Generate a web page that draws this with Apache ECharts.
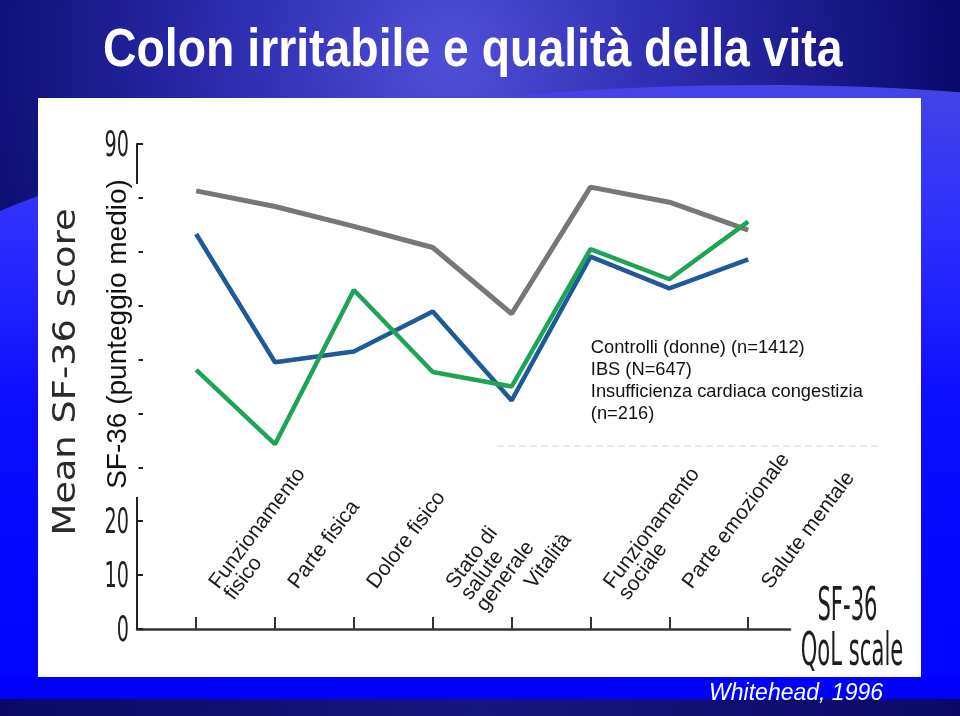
<!DOCTYPE html>
<html>
<head>
<meta charset="utf-8">
<script src="https://cdn.jsdelivr.net/npm/echarts@6/dist/echarts.min.js"></script>
<style>
html,body{margin:0;padding:0;background:#0a0a6e;}
#c{width:960px;height:716px;}
</style>
</head>
<body>
<div id="c"></div>
<script>
// ---- data ----
const categories = ['Funzionamento\nfisico', 'Parte fisica', 'Dolore fisico', 'Stato di\nsalute\ngenerale', 'Vitalità', 'Funzionamento\nsociale', 'Parte emozionale', 'Salute mentale'];
const seriesNames = ['Controlli (donne) (n=1412)', 'IBS (N=647)', 'Insufficienza cardiaca congestizia\n(n=216)'];
const controlli = [81.3, 78.4, 74.7, 70.8, 58.5, 82.0, 79.2, 74.0];
const ibs = [73.3, 49.5, 51.5, 58.9, 42.4, 69.1, 63.2, 68.6];
const insufficienza = [48.1, 34.3, 62.9, 47.7, 45.0, 70.5, 64.9, 75.6];
const yTickLabels = [90, 20, 10, 0];
const seriesColors = ['#777777', '#1d5a97', '#1ea455'];

const chart = echarts.init(document.getElementById('c'), null, {renderer: 'canvas'});
const idx = categories.map((c, i) => i);
const toPairs = arr => arr.map((v, i) => [i, v]);

const option = {
  animation: false,
  grid: {left: 137, right: 170, top: 144, bottom: 87, containLabel: false},
  xAxis: {
    type: 'value', min: -0.75, max: 7.53,
    axisLine: {show: true, onZero: false, lineStyle: {color: '#333', width: 2.5}},
    axisTick: {show: true, inside: true, length: 12, customValues: idx, lineStyle: {color: '#333', width: 2}},
    axisLabel: {
      show: true, customValues: idx, inside: true, rotate: 53, margin: 35,
      align: 'left', verticalAlign: 'top', padding: [0, 0, 0, 17],
      formatter: v => categories[Math.round(v)],
      fontFamily: '"Liberation Sans", Arial, sans-serif', fontSize: 21, lineHeight: 19, color: '#1a1a1a'
    },
    splitLine: {show: false}
  },
  yAxis: {
    type: 'value', min: 0, max: 90, interval: 10,
    axisLine: {show: true, onZero: false, lineStyle: {color: '#222', width: 2}},
    axisTick: {show: true, inside: true, length: 6, lineStyle: {color: '#222', width: 2}},
    axisLabel: {show: false},
    splitLine: {show: false}
  },
  legend: {
    orient: 'vertical', left: 577, top: 337, padding: 0, itemGap: 0,
    itemWidth: 0, itemHeight: 22, selectedMode: false,
    itemStyle: {opacity: 0}, lineStyle: {opacity: 0},
    data: seriesNames,
    textStyle: {fontFamily: '"Liberation Sans", Arial, sans-serif', fontSize: 18.3, lineHeight: 22, color: '#111'}
  },
  series: [
    {name: seriesNames[0], type: 'line', data: toPairs(controlli), symbol: 'none', lineStyle: {color: seriesColors[0], width: 5}, itemStyle: {color: seriesColors[0]}},
    {name: seriesNames[1], type: 'line', data: toPairs(ibs), symbol: 'none', lineStyle: {color: seriesColors[1], width: 4.5}, itemStyle: {color: seriesColors[1]}},
    {name: seriesNames[2], type: 'line', data: toPairs(insufficienza), symbol: 'none', lineStyle: {color: seriesColors[2], width: 4.5}, itemStyle: {color: seriesColors[2]}}
  ]
};
chart.setOption(option);

// ---- slide decoration and condensed labels ----
const graphics = [
  {type: 'rect', z: -20, silent: true, shape: {x: 0, y: 0, width: 960, height: 716},
    style: {fill: {type: 'radial', x: 0.47, y: 0.08, r: 0.7, colorStops: [
      {offset: 0, color: '#5050d8'}, {offset: 0.45, color: '#2c2cae'}, {offset: 1, color: '#0a0a6c'}]}}},
  {type: 'ellipse', z: -19, silent: true, shape: {cx: 760, cy: 445, rx: 1000, ry: 360},
    style: {fill: {type: 'linear', x: 0, y: 0, x2: 0, y2: 1, colorStops: [
      {offset: 0, color: '#4444e4'}, {offset: 0.2, color: '#2e2eff'}, {offset: 0.45, color: '#0c0cff'}, {offset: 1, color: '#0000ff'}]}}},
  {type: 'rect', z: -18, silent: true, shape: {x: 0, y: 676, width: 960, height: 24}, style: {fill: '#0000ff'}},
  {type: 'rect', z: -18, silent: true, shape: {x: 0, y: 699, width: 960, height: 17},
    style: {fill: {type: 'linear', x: 0, y: 0, x2: 1, y2: 0, colorStops: [
      {offset: 0, color: '#0a0a66'}, {offset: 0.5, color: '#15157e'}, {offset: 1, color: '#0a0a66'}]}}},
  {type: 'rect', z: -17, silent: true, shape: {x: 38, y: 98, width: 883, height: 579}, style: {fill: '#ffffff'}},
  {type: 'line', z: -16, silent: true, shape: {x1: 497, y1: 446, x2: 878, y2: 446}, style: {stroke: '#e2e2e2', lineWidth: 1.5, lineDash: [7, 4]}},
  {type: 'rect', z: 5, silent: true, shape: {x: 100, y: 184, width: 38.5, height: 313}, style: {fill: '#ffffff'}},
  {type: 'text', z: 10, silent: true, x: 103, y: 51, scaleX: 0.875,
    style: {text: 'Colon irritabile e qualità della vita', fill: '#ffffff', font: 'bold 53px "Liberation Sans", Arial, sans-serif', align: 'left', verticalAlign: 'middle'}},
  {type: 'text', z: 10, silent: true, x: 67, y: 372, rotation: Math.PI / 2, scaleX: 1.15,
    style: {text: 'Mean SF-36 score', fill: '#2b2b2b', font: '32px "DejaVu Sans", sans-serif', align: 'center', verticalAlign: 'middle'}},
  {type: 'text', z: 10, silent: true, x: 118.5, y: 334, rotation: Math.PI / 2,
    style: {text: 'SF-36 (punteggio medio)', fill: '#111', font: '28px "Liberation Sans", Arial, sans-serif', align: 'center', verticalAlign: 'middle'}},
  {type: 'text', z: 10, silent: true, x: 847.5, y: 608, scaleX: 0.45,
    style: {text: 'SF-36', fill: '#1e1e1e', font: '47px "DejaVu Sans", sans-serif', align: 'center', verticalAlign: 'middle'}},
  {type: 'text', z: 10, silent: true, x: 852, y: 652.5, scaleX: 0.45,
    style: {text: 'QoL scale', fill: '#1e1e1e', font: '47px "DejaVu Sans", sans-serif', align: 'center', verticalAlign: 'middle'}},
  {type: 'text', z: 10, silent: true, x: 883, y: 694,
    style: {text: 'Whitehead, 1996', fill: '#ffffff', font: 'italic 23px "Liberation Sans", Arial, sans-serif', align: 'right', verticalAlign: 'middle'}}
];
yTickLabels.forEach(v => {
  const py = chart.convertToPixel({yAxisIndex: 0}, v);
  graphics.push({type: 'text', z: 10, silent: true, x: 129, y: py + 3, scaleX: 0.55,
    style: {text: String(v), fill: '#222', font: '35px "DejaVu Sans", sans-serif', align: 'right', verticalAlign: 'middle'}});
});
chart.setOption({graphic: graphics});
</script>
</body>
</html>
